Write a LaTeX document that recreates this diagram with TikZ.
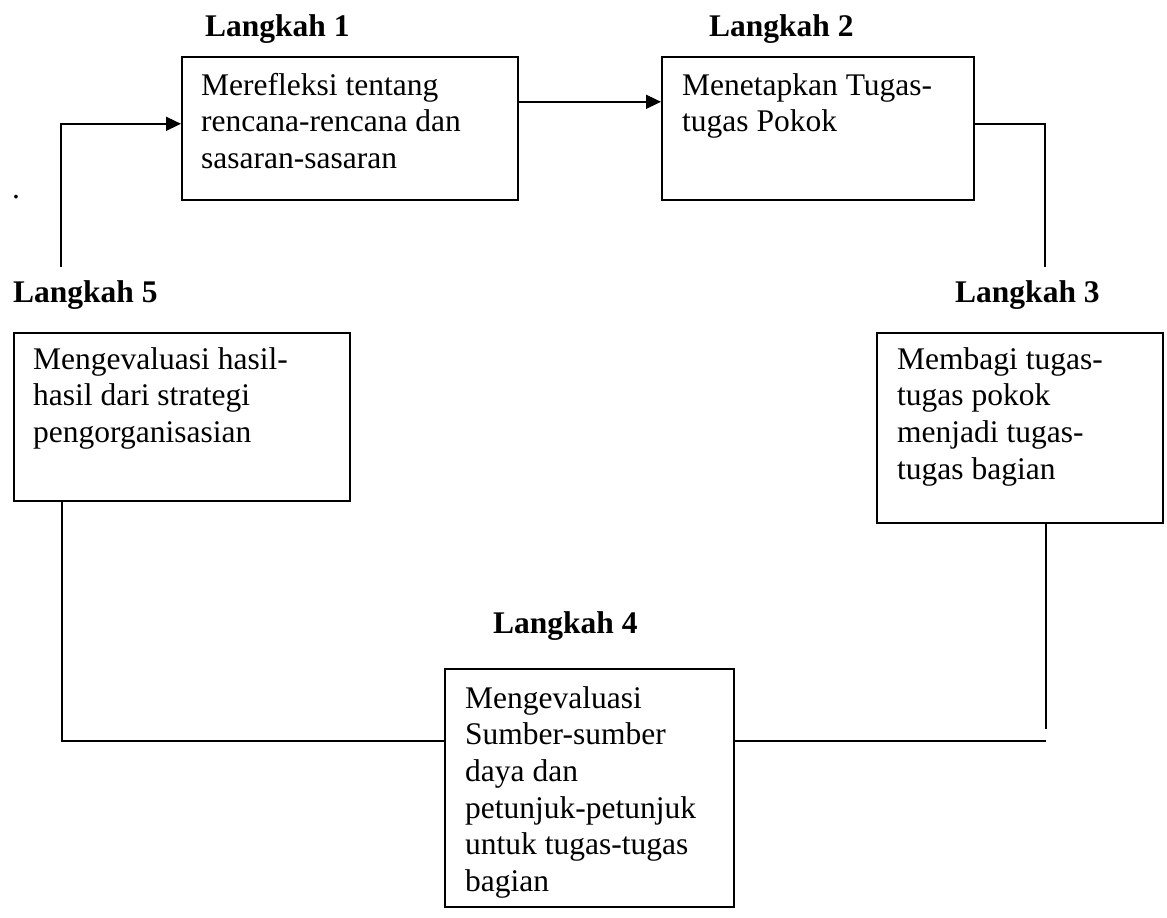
\documentclass[tikz,border=0pt]{standalone}
\usepackage{fontspec}
\setmainfont{Liberation Serif}
\usetikzlibrary{arrows.meta}
\begin{document}
\begin{tikzpicture}[x=1pt,y=-1pt,
  stepbox/.style={draw,line width=1.6pt,rectangle,inner sep=0pt,anchor=north west},
  % multi-line texts are placed by the baseline of their last line
  boxtext/.style={anchor=base west,align=left,inner sep=0pt,
    font=\fontsize{31.5}{36.7}\selectfont},
  steplabel/.style={anchor=base west,inner sep=0pt,
    font=\fontsize{31.5}{36.7}\selectfont\bfseries},
  link/.style={line width=1.6pt},
  arrowlink/.style={link,-{Triangle[length=15pt,width=14pt]}}]
\useasboundingbox (0,0) rectangle (1167,918);

% step boxes
\node[stepbox,minimum width=336pt,minimum height=143pt] (b1) at (181,56) {};
\node[stepbox,minimum width=312pt,minimum height=143pt] (b2) at (661,56) {};
\node[stepbox,minimum width=286pt,minimum height=190pt] (b3) at (876,332) {};
\node[stepbox,minimum width=289pt,minimum height=238pt] (b4) at (444,668) {};
\node[stepbox,minimum width=336pt,minimum height=168pt] (b5) at (13,332) {};

% box texts (first baseline about 38pt below the box top, 36.7pt per line)
\node[boxtext] (t1) at ([xshift=20pt,yshift=-112.4pt]b1.north west)
  {Merefleksi tentang\\rencana-rencana dan\\sasaran-sasaran};
\node[boxtext] (t2) at ([xshift=21pt,yshift=-75.7pt]b2.north west)
  {Menetapkan Tugas-\\tugas Pokok};
\node[boxtext] (t3) at ([xshift=21pt,yshift=-147.1pt]b3.north west)
  {Membagi tugas-\\tugas pokok\\menjadi tugas-\\tugas bagian};
\node[boxtext] (t4) at ([xshift=21pt,yshift=-223.5pt]b4.north west)
  {Mengevaluasi\\Sumber-sumber\\daya dan\\petunjuk-petunjuk\\untuk tugas-tugas\\bagian};
\node[boxtext] (t5) at ([xshift=20pt,yshift=-110.4pt]b5.north west)
  {Mengevaluasi hasil-\\hasil dari strategi\\pengorganisasian};

% step labels
\node[steplabel] (l1) at (205,36) {Langkah 1};
\node[steplabel] (l2) at (709,36) {Langkah 2};
\node[steplabel] (l3) at (955,302) {Langkah 3};
\node[steplabel] (l4) at (493,633) {Langkah 4};
\node[steplabel] (l5) at (13,302) {Langkah 5};

% stray full stop
\node[anchor=base west,inner sep=0pt,font=\fontsize{31.5}{36.7}\selectfont] (dot) at (12,198) {.};

% free ends of the connectors
\coordinate (c5top) at (61,267);
\coordinate (c3top) at (1045,267);
\coordinate (c3bot) at (1045,729);
\coordinate (c4end) at (1046,740);

% connectors
\draw[arrowlink] ([yshift=26.5pt]b1.east) -- ([yshift=26.5pt]b2.west);
\draw[link] ([yshift=4.5pt]b2.east) -| (c3top);
\draw[link] ([xshift=26pt]b3.south) -- ([xshift=26pt]b3.south |- c3bot);
\draw[link] ([yshift=47pt]b4.east) -- ([yshift=47pt]b4.east -| c4end);
\draw[link] ([xshift=-120pt]b5.south) |- ([yshift=47pt]b4.west);
\draw[arrowlink] (c5top) |- ([yshift=4.5pt]b1.west);
\end{tikzpicture}
\end{document}
